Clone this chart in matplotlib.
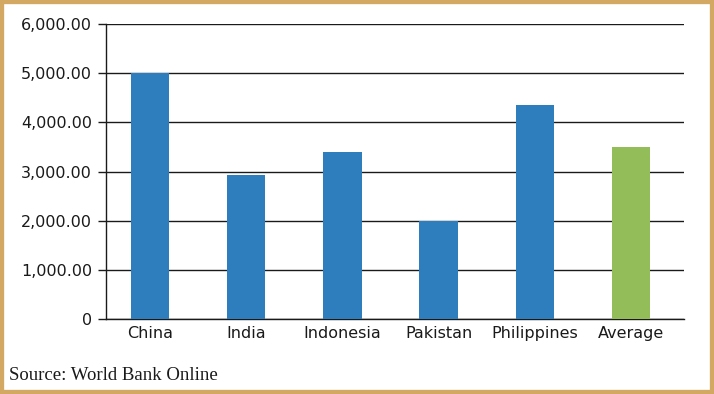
import matplotlib
matplotlib.use("Agg")
import matplotlib.pyplot as plt
from matplotlib.patches import Rectangle

categories = ["China", "India", "Indonesia", "Pakistan", "Philippines", "Average"]
values = [5000, 2930, 3390, 1990, 4350, 3500]
bar_colors = ["#2E7EBE", "#2E7EBE", "#2E7EBE", "#2E7EBE", "#2E7EBE", "#92BD58"]
yticks = [0, 1000, 2000, 3000, 4000, 5000, 6000]
ytick_labels = ["0", "1,000.00", "2,000.00", "3,000.00", "4,000.00", "5,000.00", "6,000.00"]

W, H = 714, 394
fig = plt.figure(figsize=(W / 100, H / 100), dpi=100)
fig.patch.set_facecolor("white")
ax = fig.add_axes([106 / W, 1 - 319 / H, (684 - 106) / W, (319 - 24) / H])

x = list(range(len(categories)))
ax.bar(x, values, width=0.4, color=bar_colors, zorder=3)
ax.set_xlim(-0.457, 5.55)
ax.set_ylim(0, 6000)
ax.set_yticks(yticks)
ax.set_yticklabels(ytick_labels)
ax.set_xticks(x)
ax.set_xticklabels(categories)
ax.yaxis.grid(True, color="#1a1a1a", linewidth=1.0, zorder=1)
ax.set_axisbelow(True)
for s in ["top", "right"]:
    ax.spines[s].set_visible(False)
for s in ["left", "bottom"]:
    ax.spines[s].set_color("#1a1a1a")
    ax.spines[s].set_linewidth(1.0)
ax.tick_params(axis="y", length=6, width=1, color="#1a1a1a", labelsize=11.5, pad=4, labelcolor="#1a1a1a")
ax.tick_params(axis="x", length=0, labelsize=11.5, pad=5, labelcolor="#1a1a1a")
for lbl in ax.get_xticklabels() + ax.get_yticklabels():
    lbl.set_fontfamily("DejaVu Sans")

fig.text(9 / W, 1 - 375 / H, "Source: World Bank Online", fontsize=13.5,
         family="Liberation Serif", color="#1a1a1a", va="center", ha="left")

fig.patches.append(Rectangle((0, 0), 1, 1, transform=fig.transFigure, fill=False,
                             edgecolor="#D2A862", linewidth=6, zorder=10))

fig.savefig("out.png", dpi=100)
